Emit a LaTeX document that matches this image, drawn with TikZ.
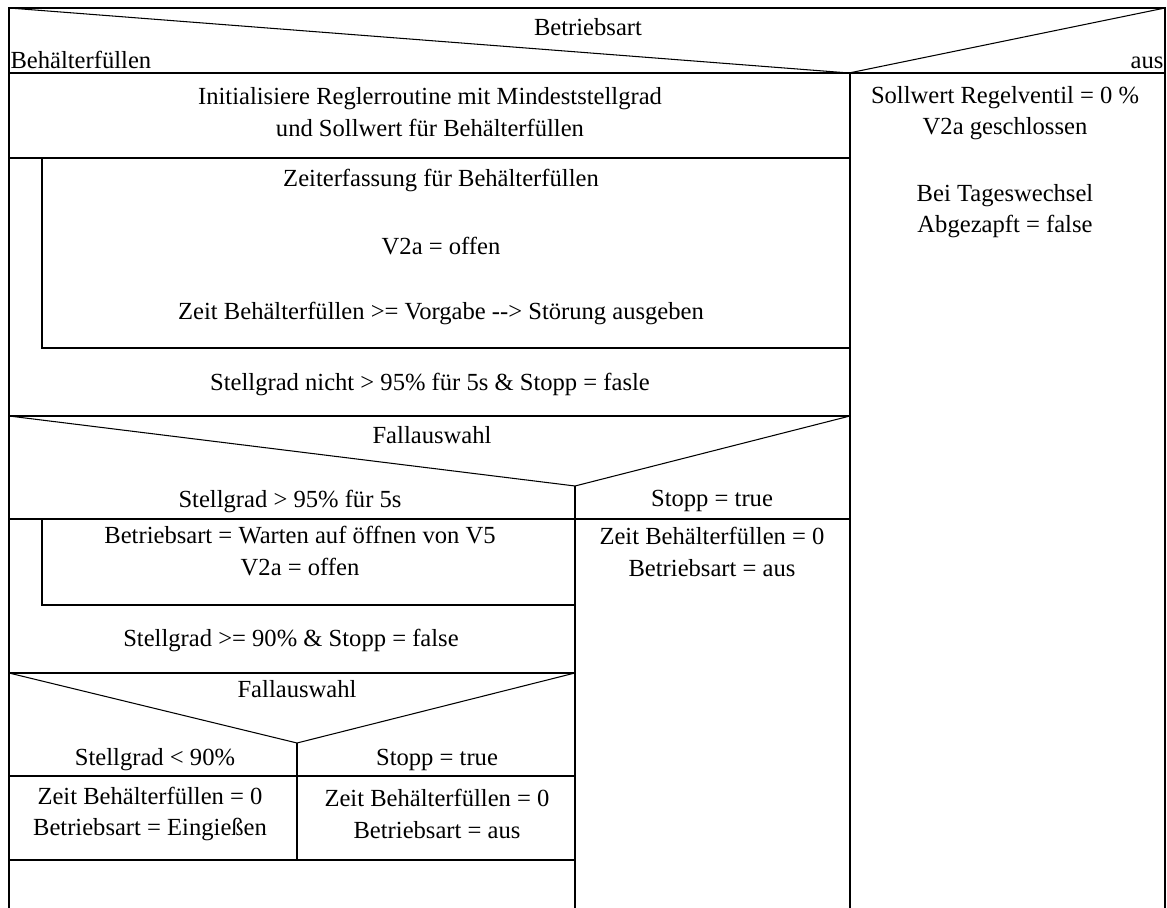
\documentclass[tikz,border=0pt]{standalone}
\usepackage{fontspec}
\setmainfont{Liberation Serif}
\usetikzlibrary{positioning}

\begin{document}
\begin{tikzpicture}[x=0.02cm,y=-0.02cm,line width=0.6pt,
    every node/.style={font=\fontsize{14}{18}\selectfont, inner sep=0pt, align=center}]
  \useasboundingbox (0,0) rectangle (1167,908);

  % outer frame and Betriebsart selection
  \draw (9,908) -- (9,8) -- (1165,8) -- (1165,908);
  \draw (9,73) -- (1165,73);
  \draw (9,8) -- (849,73) -- (1165,8);
  \draw (850,73) -- (850,908);
  \node (mode) at (588,27) {Betriebsart};
  \node (fill) [anchor=west] at (10,60) {Behälterfüllen};
  \node (off) [anchor=east] at (1164,63) {aus};

  % branch Behälterfüllen
  \node (init) at (430,112) {Initialisiere Reglerroutine mit Mindeststellgrad\\und Sollwert für Behälterfüllen};
  \draw (9,158) -- (850,158);
  \draw (42,158) -- (42,348) -- (850,348);
  \node (timer) at (441,181) {Zeiterfassung für Behälterfüllen};
  \node (valve) at (441,246) {V2a = offen};
  \node (alarm) at (441,313) {Zeit Behälterfüllen >= Vorgabe -{}-{}> Störung ausgeben};
  \node (loop1) at (430,384) {Stellgrad nicht > 95\% für 5s \& Stopp = fasle};

  % Fallauswahl 1
  \draw (9,416) -- (850,416);
  \draw (9,416) -- (575,486) -- (850,416);
  \node (case1) at (432,435) {Fallauswahl};
  \node (high) at (290,501) {Stellgrad > 95\% für 5s};
  \node (stop1) at (712,501) {Stopp = true};
  \draw (575,486) -- (575,908);
  \draw (9,519) -- (850,519);
  \draw (42,519) -- (42,605) -- (575,605);
  \node (wait) at (300,551) {Betriebsart = Warten auf öffnen von V5\\V2a = offen};
  \node (reset1) at (712,552) {Zeit Behälterfüllen = 0\\Betriebsart = aus};
  \node (loop2) at (291,640) {Stellgrad >= 90\% \& Stopp = false};

  % Fallauswahl 2
  \draw (9,673) -- (575,673);
  \draw (9,673) -- (297,743) -- (575,673);
  \node (case2) at (297,689) {Fallauswahl};
  \node (low) at (155,760) {Stellgrad < 90\%};
  \node (stop2) at (437,760) {Stopp = true};
  \draw (297,743) -- (297,860);
  \draw (9,776) -- (575,776);
  \node (pour) at (150,814) {Zeit Behälterfüllen = 0\\Betriebsart = Eingießen};
  \node (reset2) at (437,814) {Zeit Behälterfüllen = 0\\Betriebsart = aus};
  \draw (9,860) -- (575,860);

  % branch aus
  \node (idle) at (1005,113) {Sollwert Regelventil = 0 \%\\V2a geschlossen};
  \node (day) at (1005,211) {Bei Tageswechsel\\Abgezapft = false};
\end{tikzpicture}
\end{document}
